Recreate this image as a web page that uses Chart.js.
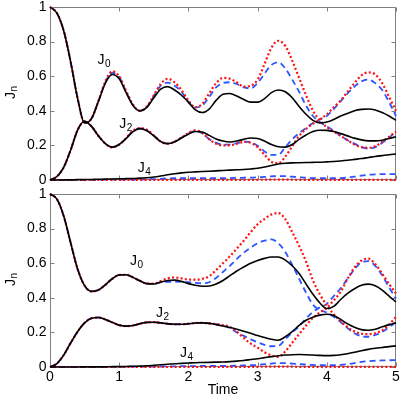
<!DOCTYPE html>
<html><head><meta charset="utf-8">
<script src="https://cdn.jsdelivr.net/npm/chart.js@4.4.0/dist/chart.umd.min.js"></script>
<style>
html,body{margin:0;padding:0;background:#fff;width:401px;height:399px;overflow:hidden}
canvas{position:absolute;left:0}
#c1{top:0}
#c2{top:187px}
</style></head><body>
<canvas id="c1" width="401" height="188"></canvas>
<canvas id="c2" width="401" height="212"></canvas>
<script>
// ---------- data ----------
const times = [0,0.1,0.2,0.3,0.4,0.5,0.6,0.7,0.8,0.9,1.0,1.1,1.2,1.3,1.4,1.5,1.6,1.7,1.8,1.9,2.0,2.1,2.2,2.3,2.4,2.5,2.6,2.7,2.8,2.9,3.0,3.1,3.2,3.3,3.4,3.5,3.6,3.7,3.8,3.9,4.0,4.1,4.2,4.3,4.4,4.5,4.6,4.7,4.8,4.9,5.0];
const xTicks = [0,1,2,3,4,5];
const yTicks = [0,0.2,0.4,0.6,0.8,1];
const xTitle = "Time";
const yTitleMain = "J";
const yTitleSub = "n";

// top panel
const topJ0Solid = [1.000,0.965,0.860,0.680,0.470,0.330,0.355,0.455,0.560,0.610,
 0.585,0.505,0.430,0.400,0.420,0.475,0.525,0.540,0.520,0.490,
 0.450,0.405,0.390,0.410,0.460,0.495,0.500,0.485,0.465,0.450,
 0.450,0.470,0.505,0.520,0.510,0.475,0.425,0.380,0.345,0.330,
 0.335,0.350,0.370,0.385,0.400,0.408,0.410,0.405,0.390,0.370,0.345];
const topJ0Dotted = [1.000,0.965,0.860,0.680,0.470,0.330,0.355,0.457,0.570,0.628,
 0.600,0.515,0.435,0.400,0.425,0.490,0.555,0.585,0.565,0.520,
 0.460,0.420,0.440,0.500,0.560,0.590,0.585,0.565,0.540,0.545,
 0.580,0.670,0.765,0.805,0.775,0.690,0.590,0.490,0.400,0.345,
 0.305,0.280,0.255,0.230,0.205,0.190,0.186,0.195,0.220,0.250,0.280];
const topJ0Dashed = [1.000,0.965,0.860,0.680,0.470,0.330,0.355,0.456,0.565,0.620,
 0.595,0.510,0.432,0.400,0.422,0.485,0.545,0.563,0.545,0.510,
 0.450,0.420,0.430,0.480,0.535,0.560,0.565,0.555,0.535,0.530,
 0.560,0.615,0.665,0.680,0.645,0.580,0.510,0.430,0.370,0.335,
 0.310,0.285,0.255,0.230,0.210,0.190,0.182,0.190,0.215,0.245,0.280];
const topJ2Solid = [0.000,0.020,0.075,0.175,0.290,0.340,0.310,0.255,0.210,0.190,
 0.205,0.240,0.280,0.297,0.285,0.255,0.222,0.210,0.220,0.243,
 0.265,0.280,0.277,0.258,0.237,0.225,0.220,0.225,0.235,0.243,
 0.240,0.225,0.205,0.192,0.190,0.205,0.235,0.260,0.280,0.288,
 0.287,0.280,0.268,0.255,0.242,0.232,0.226,0.226,0.230,0.240,0.250];
const topJ2Dotted = [0.000,0.020,0.075,0.175,0.290,0.340,0.310,0.255,0.210,0.188,
 0.205,0.242,0.285,0.300,0.290,0.258,0.222,0.210,0.222,0.245,
 0.272,0.287,0.272,0.235,0.210,0.200,0.200,0.210,0.220,0.215,
 0.190,0.145,0.105,0.097,0.135,0.195,0.255,0.295,0.325,0.350,
 0.380,0.420,0.460,0.510,0.560,0.605,0.622,0.610,0.560,0.480,0.400];
const topJ2Dashed = [0.000,0.020,0.075,0.175,0.290,0.340,0.310,0.255,0.210,0.189,
 0.205,0.241,0.283,0.298,0.288,0.257,0.222,0.210,0.222,0.245,
 0.270,0.283,0.270,0.237,0.215,0.205,0.205,0.212,0.222,0.218,
 0.198,0.165,0.145,0.146,0.190,0.235,0.270,0.300,0.330,0.350,
 0.370,0.410,0.455,0.500,0.540,0.570,0.580,0.560,0.520,0.450,0.370];
const topJ4Solid = [0.000,0.000,0.000,0.001,0.002,0.002,0.003,0.004,0.005,0.006,
 0.007,0.008,0.009,0.011,0.013,0.017,0.023,0.030,0.036,0.041,
 0.045,0.047,0.049,0.051,0.053,0.055,0.057,0.059,0.061,0.064,
 0.068,0.075,0.084,0.092,0.097,0.099,0.100,0.101,0.102,0.103,
 0.105,0.107,0.110,0.114,0.119,0.124,0.130,0.136,0.141,0.146,0.150];
const topJ4Dotted = [0,0,0,0,0,0,0,0,0,0,
 0,0,0,0,0,0,0.001,0.001,0.001,0.001,
 0.001,0.001,0.001,0.001,0.001,0.001,0.001,0.001,0.001,0.001,
 0.001,0.002,0.002,0.002,0.002,0.002,0.001,0.001,0.001,0.001,
 0.001,0.001,0.001,0.001,0.001,0.001,0.001,0.001,0.001,0.001,0.001];
const topJ4Dashed = [0,0,0,0,0,0.001,0.001,0.001,0.002,0.002,
 0.002,0.002,0.003,0.003,0.004,0.005,0.007,0.009,0.010,0.010,
 0.010,0.010,0.010,0.010,0.010,0.010,0.011,0.012,0.013,0.014,
 0.015,0.018,0.021,0.023,0.022,0.019,0.016,0.013,0.011,0.010,
 0.010,0.010,0.011,0.014,0.019,0.025,0.030,0.033,0.034,0.034,0.034];

// bottom panel
const botJ0Solid = [1.000,0.970,0.870,0.715,0.565,0.470,0.437,0.445,0.475,0.510,
 0.532,0.533,0.518,0.498,0.482,0.480,0.490,0.500,0.502,0.495,
 0.482,0.473,0.467,0.468,0.480,0.500,0.528,0.555,0.578,0.600,
 0.616,0.628,0.636,0.636,0.618,0.585,0.540,0.480,0.420,0.370,
 0.338,0.350,0.390,0.425,0.452,0.472,0.479,0.470,0.445,0.410,0.376];
const botJ0Dotted = [1.000,0.970,0.870,0.715,0.565,0.470,0.437,0.445,0.475,0.510,
 0.532,0.533,0.518,0.498,0.482,0.482,0.497,0.512,0.518,0.512,
 0.506,0.505,0.510,0.525,0.560,0.600,0.640,0.685,0.730,0.780,
 0.825,0.855,0.882,0.890,0.855,0.780,0.700,0.610,0.500,0.420,
 0.355,0.305,0.265,0.230,0.205,0.192,0.190,0.195,0.212,0.245,0.290];
const botJ0Dashed = [1.000,0.970,0.870,0.715,0.565,0.470,0.437,0.445,0.475,0.510,
 0.532,0.533,0.518,0.498,0.482,0.481,0.490,0.492,0.493,0.492,
 0.490,0.486,0.484,0.490,0.515,0.550,0.585,0.625,0.660,0.690,
 0.715,0.730,0.738,0.715,0.665,0.590,0.510,0.430,0.360,0.330,
 0.315,0.290,0.260,0.225,0.195,0.178,0.175,0.185,0.203,0.230,0.260];
const botJ2Solid = [0.000,0.020,0.070,0.140,0.205,0.255,0.282,0.286,0.275,0.258,
 0.242,0.236,0.240,0.250,0.258,0.259,0.255,0.250,0.247,0.247,
 0.250,0.254,0.255,0.252,0.245,0.237,0.228,0.218,0.207,0.195,
 0.182,0.170,0.160,0.155,0.175,0.205,0.240,0.270,0.288,0.300,
 0.305,0.298,0.275,0.250,0.230,0.216,0.212,0.218,0.232,0.245,0.255];
const botJ2Dotted = [0.000,0.020,0.070,0.140,0.205,0.255,0.282,0.286,0.275,0.258,
 0.242,0.236,0.240,0.250,0.258,0.259,0.255,0.250,0.247,0.247,
 0.250,0.254,0.255,0.252,0.248,0.242,0.232,0.203,0.168,0.135,
 0.112,0.085,0.067,0.059,0.090,0.140,0.190,0.240,0.285,0.315,
 0.342,0.385,0.435,0.510,0.575,0.615,0.627,0.595,0.540,0.480,0.425];
const botJ2Dashed = [0.000,0.020,0.070,0.140,0.205,0.255,0.282,0.286,0.275,0.258,
 0.242,0.236,0.240,0.250,0.258,0.259,0.255,0.250,0.247,0.247,
 0.250,0.254,0.255,0.252,0.248,0.238,0.225,0.200,0.180,0.160,
 0.143,0.128,0.120,0.122,0.160,0.200,0.235,0.280,0.318,0.345,
 0.365,0.410,0.455,0.510,0.565,0.605,0.612,0.585,0.530,0.460,0.396];
const botJ4Solid = [0.000,0.000,0.000,0.000,0.000,0.001,0.001,0.001,0.001,0.002,
 0.002,0.003,0.004,0.005,0.007,0.010,0.013,0.016,0.019,0.021,
 0.023,0.025,0.026,0.027,0.028,0.029,0.031,0.034,0.038,0.043,
 0.048,0.054,0.060,0.065,0.069,0.071,0.072,0.071,0.069,0.067,
 0.066,0.067,0.071,0.077,0.085,0.094,0.102,0.108,0.113,0.118,0.122];
const botJ4Dotted = [0,0,0,0,0,0,0,0,0,0,
 0,0,0,0,0,0,0,0,0,0,
 0,0,0,0,0,0,0.001,0.001,0.001,0.001,
 0.001,0.002,0.002,0.002,0.002,0.002,0.001,0.001,0.001,0.001,
 0.001,0.001,0.001,0.001,0.001,0.001,0.001,0.001,0.001,0.001,0.001];
const botJ4Dashed = [0,0,0,0,0,0,0,0,0.001,0.001,
 0.001,0.001,0.002,0.002,0.002,0.003,0.003,0.004,0.004,0.005,
 0.005,0.005,0.006,0.006,0.006,0.007,0.007,0.008,0.009,0.010,
 0.012,0.016,0.020,0.023,0.022,0.020,0.017,0.014,0.012,0.010,
 0.010,0.010,0.012,0.016,0.022,0.030,0.034,0.036,0.038,0.039,0.040];

// curve labels (subscript, time, value at text baseline)
const topLabelSubs = ["0","2","4"];
const topLabelT = [0.686, 1.00, 1.267];
const topLabelV = [0.670, 0.299, 0.048];
const botLabelSubs = ["0","2","4"];
const botLabelT = [1.156, 1.532, 1.879];
const botLabelV = [0.590, 0.291, 0.060];

// ---------- styling ----------
const FONT = "'Liberation Sans', Arial, sans-serif";
const AXIS_GRAY = '#808080';
const STYLES = {
  solid:  {borderColor:'#000000', borderWidth:1.6, borderDash:[]},
  dotted: {borderColor:'#ff1010', borderWidth:2.2, borderDash:[2,2.3]},
  dashed: {borderColor:'#2c55ff', borderWidth:1.8, borderDash:[6,4]}
};

function ds(values, style) {
  return Object.assign({
    data: times.map((t,i)=>({x:t, y:values[i]})),
    pointRadius:0, fill:false, cubicInterpolationMode:'monotone', clip:4
  }, STYLES[style]);
}

const framePlugin = {
  id:'frame',
  beforeDatasetsDraw(chart){
    const {ctx, chartArea:a, scales:{x,y}} = chart;
    ctx.save();
    ctx.strokeStyle = AXIS_GRAY; ctx.lineWidth = 1;
    const L = Math.round(a.left)+0.5, R = Math.round(a.right)-0.5;
    const T = Math.round(a.top)+0.5, B = Math.round(a.bottom)-0.5;
    ctx.strokeRect(L, T, R-L, B-T);
    ctx.beginPath();
    xTicks.forEach(v=>{
      const px = Math.round(x.getPixelForValue(v))+0.5;
      ctx.moveTo(px,B); ctx.lineTo(px,B-4);
      ctx.moveTo(px,T); ctx.lineTo(px,T+4);
    });
    yTicks.forEach(v=>{
      const py = Math.round(y.getPixelForValue(v))+0.5;
      ctx.moveTo(L,py); ctx.lineTo(L+4,py);
      ctx.moveTo(R,py); ctx.lineTo(R-4,py);
    });
    ctx.stroke();
    ctx.restore();
  },
  afterDraw(chart){
    const o = chart.options.plugins.frame;
    const {ctx, chartArea:a, scales:{x,y}} = chart;
    ctx.save();
    ctx.fillStyle = '#000';
    ctx.textAlign = 'left'; ctx.textBaseline = 'alphabetic';
    o.subs.forEach((s,i)=>{
      const px = x.getPixelForValue(o.t[i]);
      const py = y.getPixelForValue(o.v[i]);
      ctx.font = '14px ' + FONT;
      ctx.fillText('J', px, py);
      const w = ctx.measureText('J').width;
      ctx.font = '10px ' + FONT;
      ctx.fillText(s, px + w + 0.5, py + 3);
    });
    // y axis title, rotated
    ctx.save();
    ctx.font = '14px ' + FONT;
    const wJ = ctx.measureText(yTitleMain).width;
    ctx.font = '10px ' + FONT;
    const wN = ctx.measureText(yTitleSub).width;
    const cy = (a.top + a.bottom)/2 - 1;
    ctx.translate(15, cy + (wJ + wN + 0.5)/2);
    ctx.rotate(-Math.PI/2);
    ctx.font = '14px ' + FONT;
    ctx.fillText(yTitleMain, 0, 0);
    ctx.font = '10px ' + FONT;
    ctx.fillText(yTitleSub, wJ + 0.5, 1.5);
    ctx.restore();
    if (o.xTitle) {
      ctx.font = '14px ' + FONT;
      ctx.textAlign = 'center'; ctx.textBaseline = 'middle';
      ctx.fillText(xTitle, (a.left + a.right)/2, a.bottom + 23);
    }
    ctx.restore();
  }
};

function makeChart(id, sets, labels, opt) {
  return new Chart(document.getElementById(id), {
    type:'line',
    data:{ datasets:[
      ds(sets[0],'solid'), ds(sets[1],'solid'), ds(sets[2],'solid'),
      ds(sets[3],'dotted'), ds(sets[4],'dotted'), ds(sets[5],'dotted'),
      ds(sets[6],'dashed'), ds(sets[7],'dashed'), ds(sets[8],'dashed')
    ]},
    options:{
      responsive:false, animation:false, events:[],
      layout:{padding:{top:0, right:5, left:0, bottom:0}},
      plugins:{legend:{display:false}, tooltip:{enabled:false},
        frame:{subs:labels[0], t:labels[1], v:labels[2], xTitle:opt.showX}},
      scales:{
        x:{type:'linear', min:0, max:5,
          afterBuildTicks:s=>{ s.ticks = xTicks.map(v=>({value:v})); },
          afterFit:s=>{ s.height = opt.xHeight; },
          grid:{display:false, drawTicks:false}, border:{display:false},
          ticks:{display:opt.showX, color:'#000', font:{family:FONT, size:14, lineHeight:1.35}, padding:1,
            maxRotation:0, autoSkip:false, callback:v=>String(v)}},
        y:{type:'linear', min:0, max:1,
          afterBuildTicks:s=>{ s.ticks = yTicks.map(v=>({value:v})); },
          afterFit:s=>{ s.width = 50; },
          grid:{display:false, drawTicks:false}, border:{display:false},
          ticks:{color:'#000', font:{family:FONT, size:14, lineHeight:0.5}, padding:3.5,
            autoSkip:false, callback:v=>String(v)}}
      }
    },
    plugins:[framePlugin]
  });
}

makeChart('c1',
  [topJ0Solid, topJ2Solid, topJ4Solid, topJ0Dotted, topJ2Dotted, topJ4Dotted, topJ0Dashed, topJ2Dashed, topJ4Dashed],
  [topLabelSubs, topLabelT, topLabelV], {xHeight:8, showX:false});
makeChart('c2',
  [botJ0Solid, botJ2Solid, botJ4Solid, botJ0Dotted, botJ2Dotted, botJ4Dotted, botJ0Dashed, botJ2Dashed, botJ4Dashed],
  [botLabelSubs, botLabelT, botLabelV], {xHeight:32, showX:true});
</script>
</body></html>
